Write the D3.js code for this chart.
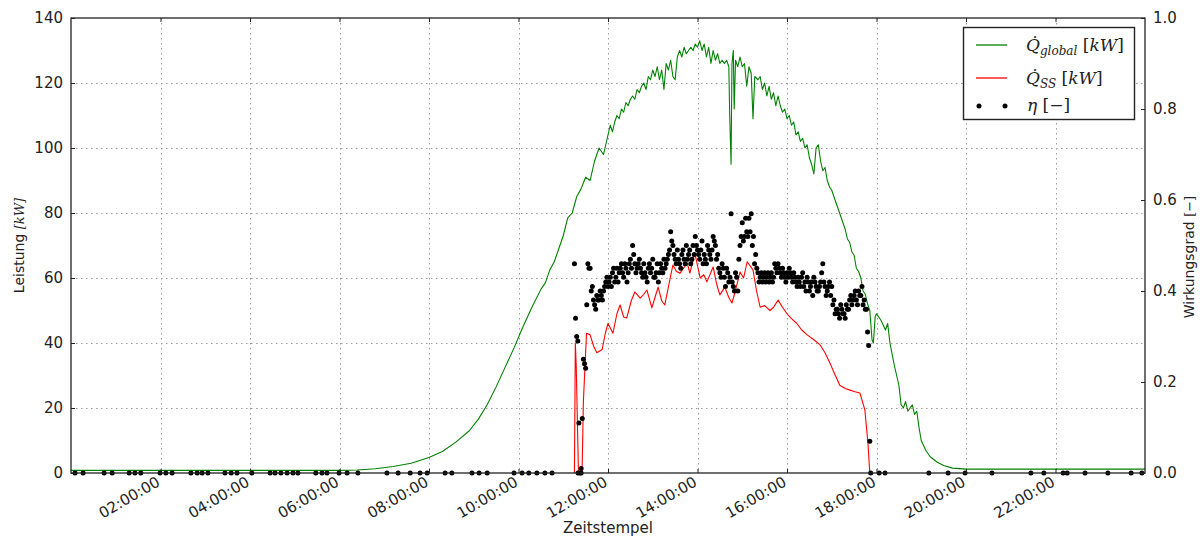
<!DOCTYPE html>
<html>
<head>
<meta charset="utf-8">
<script src="https://cdn.jsdelivr.net/npm/d3@7"></script>
<style>
  html, body { margin: 0; padding: 0; background: #fff; }
  svg { display: block; }
  text { font-family: "DejaVu Sans", sans-serif; fill: #222; }
  .math { font-family: "DejaVu Serif", serif; font-style: italic; }
</style>
</head>
<body>
<svg id="chart" width="1203" height="538"></svg>
<script>
// Global irradiated power on the collector field [kW] (time in hours)
const globalTimes = [0, 3, 6, 6.4, 6.8, 7.2, 7.6, 8.0, 8.3, 8.6, 8.9, 9.1, 9.3, 9.5, 9.7, 9.9, 10.1, 10.3, 10.5, 10.6, 10.7, 10.8, 10.9, 11.0, 11.1, 11.2, 11.3, 11.4, 11.5, 11.6, 11.7, 11.8, 11.9,
  12.0, 12.05, 12.1, 12.15, 12.2, 12.25, 12.3, 12.35, 12.4, 12.45, 12.5, 12.55, 12.6, 12.65, 12.7, 12.75, 12.8, 12.85, 12.9, 12.95,
  13.0, 13.05, 13.1, 13.15, 13.2, 13.25, 13.3, 13.35, 13.4, 13.45, 13.5, 13.55, 13.6, 13.65, 13.7, 13.75, 13.8, 13.85, 13.9, 13.95,
  14.0, 14.05, 14.1, 14.15, 14.2, 14.25, 14.3, 14.35, 14.4, 14.45, 14.5, 14.55, 14.6, 14.65, 14.7, 14.72, 14.75, 14.77, 14.8, 14.82, 14.85, 14.9, 14.95,
  15.0, 15.05, 15.1, 15.15, 15.2, 15.24, 15.28, 15.35, 15.4, 15.45, 15.5, 15.55, 15.6, 15.65, 15.7, 15.75, 15.8, 15.85, 15.9, 15.95,
  16.0, 16.05, 16.1, 16.15, 16.2, 16.25, 16.3, 16.35, 16.4, 16.45, 16.5, 16.55, 16.6, 16.65, 16.7, 16.75, 16.8, 16.85, 16.9, 16.95,
  17.0, 17.05, 17.1, 17.15, 17.2, 17.25, 17.3, 17.35, 17.4, 17.45, 17.5, 17.55, 17.6, 17.65, 17.7, 17.75, 17.8, 17.85, 17.9, 17.93, 17.97,
  18.0, 18.1, 18.2, 18.25, 18.3, 18.4, 18.5, 18.55, 18.6, 18.65, 18.7, 18.75, 18.8, 18.85, 18.9, 18.95, 19.0, 19.1, 19.2, 19.35, 19.5, 19.7, 20.0, 24.0];
const globalValues = [0.8, 0.8, 0.8, 0.9, 1.3, 2.0, 3.0, 4.8, 6.6, 9.5, 13, 16.5, 21, 26.5, 32.5, 38.5, 45, 51, 56.5, 58.5, 62.5, 65, 69, 73, 78.5, 80, 85, 87.5, 91, 90, 96, 100, 98,
  104, 107, 105, 108, 110, 109, 112, 111, 114, 113, 115, 116, 115, 118, 117, 119, 120, 118, 122, 121,
  124, 122, 125, 121, 124, 118, 126, 124, 127, 122, 121, 128, 130, 128, 131, 129, 130, 131, 130, 132,
  131, 133, 130, 132, 128, 131, 126, 130, 127, 129, 126, 127, 126, 127, 125, 110, 95, 126, 130, 112, 127, 125, 128,
  125, 126, 119, 125, 123, 109, 122, 121, 122, 118, 120, 116, 119, 115, 117, 113, 116, 113, 111, 112,
  109, 110, 107, 108, 104, 105, 102, 103, 100, 101, 97, 95, 92, 100, 101, 96, 93, 94, 90, 88,
  87, 85, 83, 81, 79, 77, 75, 72, 71, 68, 67, 63, 62, 60, 56, 55, 52, 50, 41, 40, 48,
  49, 47, 44, 46, 40, 33, 27, 21, 20, 22, 19, 20, 21, 18, 19, 14, 10, 7, 5, 3.4, 2.3, 1.5, 1.2, 1.2];

// Power delivered by the solar loop [kW]
const ssTimes = [11.25, 11.27, 11.29, 11.34, 11.42, 11.45, 11.52, 11.60, 11.68, 11.75, 11.87, 11.94, 12.00, 12.11, 12.20, 12.27, 12.35, 12.42, 12.52, 12.60, 12.72, 12.80, 12.87, 12.98, 13.05, 13.12, 13.20, 13.27,
  13.36, 13.45, 13.53, 13.61, 13.77, 13.83, 13.94, 14.06, 14.14, 14.21, 14.35, 14.43, 14.50, 14.61, 14.70, 14.77, 14.84, 14.95, 15.03, 15.11, 15.24, 15.32, 15.40,
  15.50, 15.62, 15.70, 15.80, 15.90, 16.00, 16.10, 16.22, 16.33, 16.45, 16.60, 16.74, 16.85, 16.96, 17.08, 17.18, 17.30, 17.41, 17.52, 17.63, 17.74, 17.81, 17.85];
const ssValues = [0, 40, 33, 0, 0, 22, 43, 42.5, 39, 37, 38, 43, 46, 43, 49, 51.7, 48, 47.7, 53, 55.7, 53.8, 55, 56.3, 50.8, 54, 57.2, 53, 51.7,
  58, 64, 62, 61.5, 64.6, 61.5, 67.7, 60, 61, 58.8, 63.4, 58, 54.8, 57.2, 54, 52.3, 55.7, 61.8, 60, 65, 62.5, 56, 51,
  51.5, 50, 51, 53.2, 51, 49, 47.5, 46, 44, 42.5, 41, 39.4, 37, 33.8, 30, 27, 26, 25.5, 25, 24.6, 19.4, 9, 0];

// Collector efficiency [-]: two interleaved sample sets, each every 3 minutes
const etaStep = 0.05;
const etaStartA = 11.25;
const etaValuesA = [0.46, 0.30, 0.11, 0.01, 0.25, 0.23, 0.46, 0.45, 0.41, 0.37, 0.39, 0.38, 0.39, 0.40, 0.42, 0.41, 0.43, 0.44, 0.42, 0.45,
  0.44, 0.46, 0.43, 0.45, 0.44, 0.47, 0.50, 0.46, 0.45, 0.47, 0.44, 0.46, 0.43, 0.45, 0.44, 0.47, 0.43, 0.46, 0.44, 0.45,
  0.47, 0.46, 0.48, 0.53, 0.50, 0.47, 0.49, 0.46, 0.48, 0.47, 0.50, 0.48, 0.46, 0.50, 0.52, 0.49, 0.47, 0.51, 0.48, 0.46,
  0.49, 0.47, 0.52, 0.50, 0.48, 0.44, 0.46, 0.43, 0.45, 0.42, 0.57, 0.41, 0.44, 0.40, 0.50, 0.55, 0.52, 0.53, 0.56, 0.57,
  0.52, 0.48, 0.44, 0.43, 0.42, 0.44, 0.43, 0.42, 0.44, 0.43, 0.45, 0.46, 0.44, 0.45, 0.43, 0.44, 0.45, 0.43, 0.44, 0.42,
  0.43, 0.41, 0.44, 0.42, 0.43, 0.40, 0.42, 0.43, 0.41, 0.40, 0.42, 0.46, 0.41, 0.40, 0.42, 0.41, 0.38, 0.36, 0.35, 0.37,
  0.35, 0.34, 0.36, 0.38, 0.37, 0.39, 0.38, 0.40, 0.39, 0.37, 0.36, 0.31, 0.07];
const etaStartB = 11.275;
const etaValuesB = [0.34, 0.29, 0.00, 0.12, 0.24, 0.37, 0.45, 0.40, 0.38, 0.36, 0.38, 0.40, 0.38, 0.41, 0.43, 0.42, 0.41, 0.45, 0.43, 0.42,
  0.45, 0.44, 0.46, 0.42, 0.46, 0.45, 0.48, 0.44, 0.46, 0.45, 0.43, 0.44, 0.42, 0.46, 0.45, 0.43, 0.44, 0.42, 0.46, 0.44,
  0.45, 0.47, 0.49, 0.51, 0.48, 0.46, 0.47, 0.45, 0.49, 0.46, 0.47, 0.49, 0.47, 0.48, 0.50, 0.48, 0.49, 0.46, 0.47, 0.50,
  0.48, 0.49, 0.51, 0.47, 0.45, 0.43, 0.45, 0.41, 0.44, 0.43, 0.42, 0.40, 0.43, 0.47, 0.52, 0.51, 0.56, 0.52, 0.53, 0.50,
  0.46, 0.45, 0.42, 0.44, 0.43, 0.42, 0.44, 0.43, 0.42, 0.46, 0.44, 0.45, 0.43, 0.44, 0.42, 0.43, 0.44, 0.42, 0.43, 0.41,
  0.42, 0.43, 0.41, 0.40, 0.42, 0.41, 0.39, 0.42, 0.40, 0.41, 0.44, 0.42, 0.39, 0.41, 0.39, 0.37, 0.35, 0.36, 0.34, 0.36,
  0.35, 0.37, 0.36, 0.39, 0.38, 0.40, 0.37, 0.39, 0.41, 0.38, 0.36, 0.28];
// Efficiency samples outside operation (value 0)
const etaZeroTimes = [0.09, 0.27, 0.74, 0.92, 1.30, 1.43, 1.56, 1.99, 2.12, 2.26, 2.68, 2.82, 2.93, 3.06, 3.44, 3.58, 3.71, 4.04, 4.45, 4.56, 4.69, 4.83, 4.96, 5.07,
  5.47, 5.61, 5.72, 5.99, 6.17, 6.41, 7.06, 7.31, 7.58, 7.80, 7.96, 8.36, 8.51, 8.96, 9.12, 9.30, 9.90, 10.08, 10.23, 10.41, 10.59, 10.75, 11.33, 11.40,
  17.87, 18.06, 18.19, 19.17, 19.60, 19.98, 20.58, 21.45, 21.74, 22.17, 22.26, 22.66, 23.17, 23.69, 23.93];

const hourTicks = [2, 4, 6, 8, 10, 12, 14, 16, 18, 20, 22];
const powerTicks = [0, 20, 40, 60, 80, 100, 120, 140];
const etaTicks = [0.0, 0.2, 0.4, 0.6, 0.8, 1.0];

const margin = { left: 71, right: 1145, top: 18, bottom: 473 };
const svg = d3.select("#chart");

const x = d3.scaleLinear().domain([0, 24]).range([margin.left, margin.right]);
const yP = d3.scaleLinear().domain([0, 140]).range([margin.bottom, margin.top]);
const yE = d3.scaleLinear().domain([0, 1]).range([margin.bottom, margin.top]);

const fmtHour = h => String(h).padStart(2, "0") + ":00:00";

// grid
const grid = svg.append("g").attr("stroke", "#9a9a9a").attr("stroke-width", 1).attr("stroke-dasharray", "1.5,3.5");
grid.selectAll("line.v").data(hourTicks).join("line")
  .attr("x1", d => Math.round(x(d)) + 0.5).attr("x2", d => Math.round(x(d)) + 0.5)
  .attr("y1", margin.top).attr("y2", margin.bottom);
grid.selectAll("line.h").data(powerTicks.slice(1, -1)).join("line")
  .attr("x1", margin.left).attr("x2", margin.right)
  .attr("y1", d => Math.round(yP(d)) + 0.5).attr("y2", d => Math.round(yP(d)) + 0.5);

// series
svg.append("clipPath").attr("id", "plotclip").append("rect")
  .attr("x", margin.left).attr("y", margin.top)
  .attr("width", margin.right - margin.left).attr("height", margin.bottom - margin.top);
const plot = svg.append("g").attr("clip-path", "url(#plotclip)");

const gData = globalTimes.map((t, i) => [t, globalValues[i]]);
const sData = ssTimes.map((t, i) => [t, ssValues[i]]);
const line = d3.line().x(d => x(d[0])).y(d => yP(d[1]));

plot.append("path").datum(gData).attr("d", line)
  .attr("fill", "none").attr("stroke", "#008000").attr("stroke-width", 1.1).attr("stroke-linejoin", "round");
plot.append("path").datum(sData).attr("d", line)
  .attr("fill", "none").attr("stroke", "#ff0000").attr("stroke-width", 1.1).attr("stroke-linejoin", "round");

const etaData = etaValuesA.map((v, i) => [etaStartA + i * etaStep, v])
  .concat(etaValuesB.map((v, i) => [etaStartB + i * etaStep, v]))
  .concat(etaZeroTimes.map(t => [t, 0]));
svg.append("g").selectAll("circle").data(etaData).join("circle")
  .attr("cx", d => x(d[0])).attr("cy", d => yE(d[1])).attr("r", 2.5).attr("fill", "#000");

// frame
svg.append("rect").attr("x", margin.left).attr("y", margin.top)
  .attr("width", margin.right - margin.left).attr("height", margin.bottom - margin.top)
  .attr("fill", "none").attr("stroke", "#222").attr("stroke-width", 1.3);

// axes (ticks pointing inward)
const axL = d3.axisLeft(yP).tickValues(powerTicks).tickSizeInner(-4).tickSizeOuter(0).tickPadding(8).tickFormat(d3.format("d"));
const axR = d3.axisRight(yE).tickValues(etaTicks).tickSizeInner(-4).tickSizeOuter(0).tickPadding(8).tickFormat(d3.format(".1f"));
const axB = d3.axisBottom(x).tickValues(hourTicks).tickSizeInner(-4).tickSizeOuter(0).tickFormat(fmtHour);
const axT = d3.axisTop(x).tickValues(hourTicks).tickSizeInner(-4).tickSizeOuter(0).tickFormat("");

function style(g) {
  g.select(".domain").remove();
  g.selectAll(".tick line").attr("stroke", "#222");
  g.selectAll(".tick text").attr("font-size", 15).attr("fill", "#222").attr("font-family", "DejaVu Sans, sans-serif");
}
svg.append("g").attr("transform", `translate(${margin.left},0)`).call(axL).call(style);
svg.append("g").attr("transform", `translate(${margin.right},0)`).call(axR).call(style);
svg.append("g").attr("transform", `translate(0,${margin.top})`).call(axT).call(style);
const bottom = svg.append("g").attr("transform", `translate(0,${margin.bottom})`).call(axB).call(style);
bottom.selectAll(".tick text")
  .attr("text-anchor", "end").attr("dx", 0).attr("dy", 0)
  .attr("transform", "translate(0,12) rotate(-30)")
  .attr("y", 0).attr("x", 0);

// axis titles
svg.append("text").attr("x", (margin.left + margin.right) / 2).attr("y", 533)
  .attr("text-anchor", "middle").attr("font-size", 15).text("Zeitstempel");

const ylab = svg.append("text").attr("transform", `translate(24,${(margin.top + margin.bottom) / 2}) rotate(-90)`)
  .attr("text-anchor", "middle").attr("font-size", 14);
ylab.append("tspan").text("Leistung ");
ylab.append("tspan").attr("class", "math").attr("font-size", 13).text("[kW]");

const rlab = svg.append("text").attr("transform", `translate(1194,257) rotate(-90)`)
  .attr("text-anchor", "middle").attr("font-size", 14);
rlab.append("tspan").text("Wirkungsgrad ");
rlab.append("tspan").attr("font-family", "DejaVu Serif, serif").attr("font-size", 13).text("[−]");

// legend
const lg = svg.append("g");
lg.append("rect").attr("x", 963.5).attr("y", 27.5).attr("width", 171).attr("height", 92)
  .attr("fill", "#fff").attr("stroke", "#222").attr("stroke-width", 1.4);
const entries = [
  { y: 45, kind: "line", color: "#008000", sub: "global", unit: "kW" },
  { y: 78, kind: "line", color: "#ff0000", sub: "SS", unit: "kW" },
  { y: 106, kind: "dots" }
];
entries.forEach(e => {
  if (e.kind === "line") {
    lg.append("line").attr("x1", 976).attr("x2", 1007).attr("y1", e.y).attr("y2", e.y)
      .attr("stroke", e.color).attr("stroke-width", 1.3);
    const t = lg.append("text").attr("class", "math").attr("x", 1026).attr("y", e.y + 6).attr("font-size", 17);
    t.append("tspan").text("Q\u0307");
    t.append("tspan").attr("font-size", 12).attr("dy", 4).text(e.sub);
    t.append("tspan").attr("dy", -4).attr("font-style", "normal").text(" [");
    t.append("tspan").text(e.unit);
    t.append("tspan").attr("font-style", "normal").text("]");
  } else {
    lg.append("circle").attr("cx", 979).attr("cy", e.y).attr("r", 2.5).attr("fill", "#000");
    lg.append("circle").attr("cx", 1005).attr("cy", e.y).attr("r", 2.5).attr("fill", "#000");
    const t = lg.append("text").attr("class", "math").attr("x", 1027).attr("y", e.y + 5).attr("font-size", 17);
    t.append("tspan").text("η");
    t.append("tspan").attr("font-style", "normal").text(" [−]");
  }
});
</script>
</body>
</html>
